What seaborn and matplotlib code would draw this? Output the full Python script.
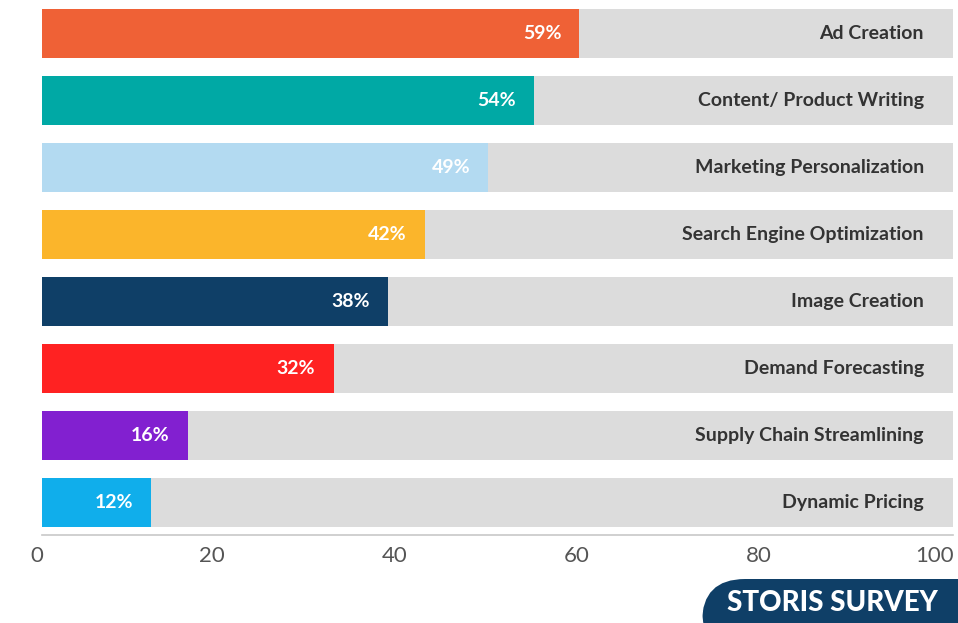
import matplotlib
matplotlib.use("Agg")
import matplotlib.pyplot as plt
import matplotlib.transforms as mtransforms
from matplotlib.patches import FancyBboxPatch
import pandas as pd
import seaborn as sns

categories = [
    "Ad Creation",
    "Content/ Product Writing",
    "Marketing Personalization",
    "Search Engine Optimization",
    "Image Creation",
    "Demand Forecasting",
    "Supply Chain Streamlining",
    "Dynamic Pricing",
]
values = [59, 54, 49, 42, 38, 32, 16, 12]
colors = ["#EF6136", "#00A9A5", "#B3DAF1", "#FBB52B",
          "#0F3F67", "#FF2222", "#8220D0", "#10AEEB"]
x_ticks = [0, 20, 40, 60, 80, 100]
full_scale = 100

sns.set_theme(style="white")
plt.rcParams["font.family"] = ["Lato", "DejaVu Sans"]

df = pd.DataFrame({"category": categories, "value": values,
                   "total": [full_scale] * len(categories)})

fig = plt.figure(figsize=(9.58, 6.23), dpi=100)
ax = fig.add_axes([42 / 958, 88 / 623, 911 / 958, 535 / 623])

# grey track behind each bar
sns.barplot(data=df, x="total", y="category", orient="h", color="#DCDCDC",
            width=0.73, saturation=1, linewidth=0, ax=ax, zorder=1)
# coloured value bars
sns.barplot(data=df, x="value", y="category", hue="category", orient="h",
            palette=dict(zip(categories, colors)), width=0.73, saturation=1,
            linewidth=0, legend=False, ax=ax, zorder=2)

ax.set_xlim(0, full_scale)
ax.set_ylim(len(categories) - 1 + 0.485, -0.5)
ax.set_xlabel("")
ax.set_ylabel("")
ax.set_yticks([])

for i, (cat, v) in enumerate(zip(categories, values)):
    ax.text(v - 2.0, i, f"{v}%", ha="right", va="center", color="white",
            fontsize=14, fontweight="bold", zorder=3)
    ax.text(96.8, i, cat, ha="right", va="center", color="#333333",
            fontsize=14, fontweight="bold", zorder=3)

for side in ["top", "right", "left"]:
    ax.spines[side].set_visible(False)
ax.spines["bottom"].set_color("#C8C8C8")
ax.spines["bottom"].set_linewidth(1.2)

ax.set_xticks(x_ticks)
ax.set_xticklabels([str(t) for t in x_ticks])
ax.tick_params(axis="x", direction="in", length=6, width=1, color="#C8C8C8",
               labelsize=16, labelcolor="#555555", pad=8)
for lbl in ax.get_xticklabels():
    lbl.set_horizontalalignment("right")
    lbl.set_fontweight("normal")
    lbl.set_transform(lbl.get_transform() +
                      mtransforms.ScaledTranslation(1 / 100, 0, fig.dpi_scale_trans))
ax.get_xticklines()[0].set_color("#444444")

# survey badge in the lower right corner
badge = FancyBboxPatch((702 / 958, -30 / 623), 300 / 958, 74 / 623,
                       boxstyle="round,pad=0,rounding_size=0.045",
                       transform=fig.transFigure, facecolor="#0F3F67",
                       edgecolor="none", mutation_aspect=958 / 623)
fig.patches.append(badge)
fig.text(832 / 958, (623 - 603) / 623, "STORIS SURVEY", ha="center", va="center",
         color="white", fontsize=20, fontweight="black")

fig.savefig("out.png", dpi=100)
